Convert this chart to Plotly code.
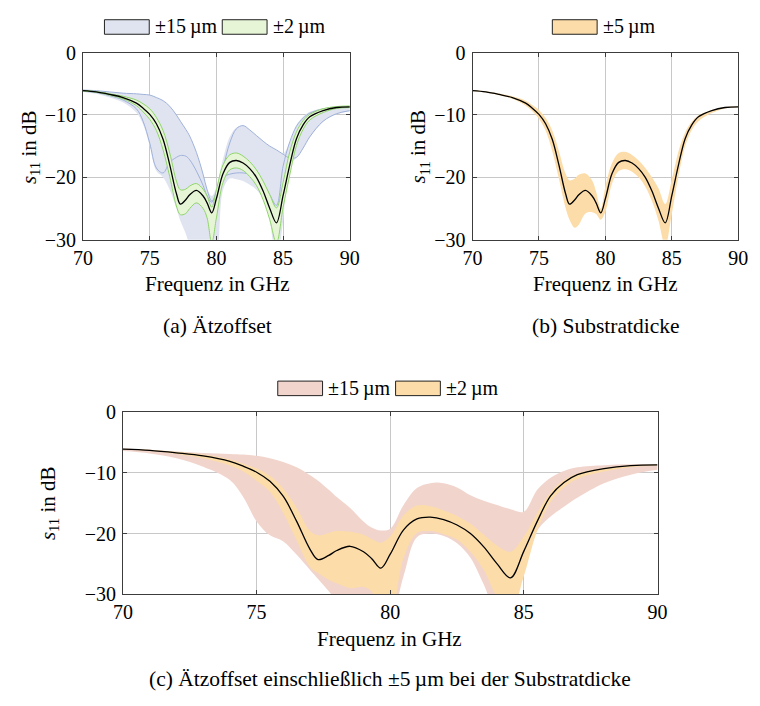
import plotly.graph_objects as go

# ---------------------------------------------------------------- data
freq = [70, 71, 72, 73, 74, 74.5, 75, 75.5, 76, 76.5, 77, 77.3, 77.7, 78, 78.5,
        79, 79.3, 79.65, 80, 80.5, 81, 81.5, 82, 82.5, 83, 83.5, 84, 84.5, 85,
        85.5, 86, 86.5, 87, 88, 89, 90]

# nominal design
s11_nominal = [-6.1, -6.3, -6.7, -7.2, -8.1, -8.9, -9.9, -11.4, -13.9, -18.0, -22.6, -24.3,
               -23.6, -22.8, -22.1, -23.0, -24.1, -25.7, -23.4, -19.4, -17.6, -17.3, -17.7,
               -18.6, -20.0, -22.2, -25.0, -27.3, -22.9, -18.0, -13.8, -11.6, -10.3, -9.3,
               -8.8, -8.7]

# (a) etch offset +-15 um: envelope and the two extreme curves
etch15_upper = [-6.0, -6.1, -6.3, -6.5, -6.6, -6.7, -6.8, -7.2, -7.7, -8.6, -10.0, -11.0,
                -12.3, -13.4, -16.0, -19.5, -21.8, -23.0, -21.5, -17.0, -13.5, -12.0, -11.7,
                -12.4, -13.3, -14.2, -15.0, -15.6, -16.2, -14.3, -11.6, -10.3, -9.5, -8.9,
                -8.7, -8.6]
etch15_lower = [-6.3, -6.6, -7.2, -8.0, -9.6, -11.5, -15.0, -19.0, -20.0, -22.0, -25.0, -27.0,
                -29.0, -31.0, -33.0, -34.0, -34.0, -34.0, -33.0, -22.0, -20.2, -20.3, -20.6,
                -21.2, -22.0, -23.5, -27.0, -34.0, -27.0, -18.0, -16.9, -15.4, -13.6, -11.1,
                -9.9, -9.4]
etch15_plus = [-6.0, -6.1, -6.3, -6.5, -6.6, -6.7, -6.8, -7.2, -7.7, -8.6, -10.0, -11.0,
               -12.3, -13.4, -16.0, -19.5, -22.0, -23.8, -22.5, -18.5, -14.5, -12.2, -11.7,
               -12.4, -13.3, -14.2, -15.0, -15.6, -16.3, -16.9, -16.8, -15.3, -13.5, -11.0,
               -9.8, -9.3]
etch15_minus = [-6.2, -6.4, -6.9, -7.6, -9.0, -11.0, -14.5, -18.5, -19.3, -17.6, -16.8, -16.5,
                -16.6, -17.2, -19.0, -21.3, -23.0, -24.0, -22.3, -20.0, -19.5, -19.3, -19.3,
                -19.5, -20.0, -21.0, -22.8, -24.5, -18.2, -14.3, -11.8, -10.5, -9.7, -9.0,
                -8.75, -8.7]

# (a) etch offset +-2 um envelope
etch2_upper = [-6.05, -6.25, -6.6, -7.0, -7.6, -8.2, -9.0, -10.4, -12.5, -16.1, -20.6, -22.0,
               -21.9, -21.4, -21.0, -21.9, -23.0, -24.8, -22.0, -18.0, -16.4, -16.1, -16.6,
               -17.5, -18.8, -20.6, -22.8, -24.9, -20.8, -15.9, -12.7, -10.9, -9.9, -9.0,
               -8.65, -8.55]
etch2_lower = [-6.15, -6.35, -6.8, -7.4, -8.5, -9.5, -10.7, -12.5, -15.6, -19.9, -24.6, -26.0,
               -25.8, -25.0, -24.1, -25.0, -26.5, -30.5, -26.5, -20.8, -18.8, -18.5, -18.9,
               -19.9, -21.3, -23.6, -26.8, -30.5, -24.8, -19.6, -14.9, -12.3, -10.8, -9.6,
               -8.95, -8.8]

# (b) substrate thickness +-5 um envelope
sub5_upper = [-6.0, -6.2, -6.55, -7.0, -7.7, -8.4, -9.2, -10.5, -12.5, -15.8, -19.4, -20.5,
              -20.2, -19.6, -19.4, -20.5, -22.3, -25.0, -21.5, -17.7, -16.1, -15.9, -16.4,
              -17.3, -18.5, -20.0, -21.8, -24.3, -20.3, -15.8, -12.8, -11.1, -10.1, -9.2,
              -8.7, -8.6]
sub5_lower = [-6.2, -6.4, -6.85, -7.4, -8.5, -9.4, -10.6, -12.5, -15.8, -20.2, -24.9, -26.8,
              -28.1, -27.6, -25.8, -25.6, -25.9, -26.8, -25.5, -21.0, -19.0, -18.7, -19.1,
              -20.0, -21.5, -23.8, -27.0, -31.0, -25.8, -19.8, -15.0, -12.4, -11.0, -9.7,
              -8.95, -8.75]

# (c) etch offset combined with +-5 um substrate thickness
comb15_upper = [-6.0, -6.2, -6.5, -6.75, -6.9, -7.0, -7.2, -7.6, -8.2, -9.1, -10.4, -11.3,
                -12.8, -14.0, -15.8, -18.0, -19.0, -19.5, -19.2, -15.3, -12.5, -11.7, -11.7,
                -12.4, -13.7, -14.6, -15.3, -16.0, -16.4, -12.8, -10.8, -9.7, -9.1, -8.75,
                -8.6, -8.6]
comb15_lower = [-6.4, -6.8, -7.6, -9.0, -11.2, -14.0, -18.0, -20.3, -21.3, -23.5, -26.0, -27.5,
                -29.5, -31.0, -33.0, -34.0, -34.0, -34.0, -34.0, -27.0, -20.6, -20.0, -20.4,
                -21.6, -24.0, -28.4, -33.0, -33.0, -25.0, -19.5, -17.2, -15.6, -14.1, -11.7,
                -10.3, -9.5]
comb2_upper = [-6.05, -6.2, -6.55, -7.0, -7.8, -8.5, -9.3, -10.5, -12.6, -15.8, -19.6, -20.3,
               -19.9, -19.6, -19.7, -20.2, -20.9, -21.5, -20.5, -17.0, -15.4, -15.5, -16.2,
               -17.1, -18.4, -20.2, -22.0, -23.0, -20.5, -16.6, -13.2, -11.2, -10.1, -9.2,
               -8.75, -8.65]
comb2_lower = [-6.2, -6.4, -6.9, -7.6, -8.8, -9.8, -11.3, -13.1, -16.6, -21.1, -25.5, -26.5,
               -27.6, -28.2, -29.0, -28.8, -29.5, -33.0, -33.0, -24.0, -19.9, -19.6, -20.1,
               -21.0, -23.0, -26.0, -30.5, -33.0, -27.0, -19.5, -14.8, -12.4, -11.0, -9.8,
               -9.1, -8.8]

x_ticks = [70, 75, 80, 85, 90]
y_ticks = [0, -10, -20, -30]

# ---------------------------------------------------------------- style
W, H = 760, 706
FONT = "Liberation Serif, Times New Roman, serif"
TICK_SIZE = 20
TITLE_SIZE = 21
CAPTION_SIZE = 21.5
BLUE_FILL, BLUE_LINE = "#e0e4f0", "#9fb1da"
GREEN_FILL, GREEN_LINE = "#e6f5d6", "#8fd46a"
ORANGE_FILL = "#fcdca8"
PINK_FILL = "#f1d5cd"
FRAME = "#3c3c3c"
GRID = "#c8c8c8"


def px(x):
    return x / W


def py(y):
    return 1 - y / H


fig = go.Figure()


def line(xa, ya, y, color, width):
    fig.add_trace(go.Scatter(
        x=freq, y=y, xaxis=xa, yaxis=ya, mode="lines",
        line=dict(color=color, width=width, shape="spline", smoothing=1),
        showlegend=False, hoverinfo="skip"))


def band(xa, ya, lower, upper, fill, edge=None, edge_width=1):
    color = edge if edge else "rgba(0,0,0,0)"
    width = edge_width if edge else 0
    fig.add_trace(go.Scatter(
        x=freq, y=lower, xaxis=xa, yaxis=ya, mode="lines",
        line=dict(color=color, width=width, shape="spline", smoothing=1),
        showlegend=False, hoverinfo="skip"))
    fig.add_trace(go.Scatter(
        x=freq, y=upper, xaxis=xa, yaxis=ya, mode="lines", fill="tonexty",
        fillcolor=fill,
        line=dict(color=color, width=width, shape="spline", smoothing=1),
        showlegend=False, hoverinfo="skip"))


# (a) etch offset
band("x", "y", etch15_lower, etch15_upper, BLUE_FILL)
line("x", "y", etch15_plus, BLUE_LINE, 1)
line("x", "y", etch15_minus, BLUE_LINE, 1)
band("x", "y", etch2_lower, etch2_upper, GREEN_FILL, GREEN_LINE, 1)
line("x", "y", s11_nominal, "black", 1.3)

# (b) substrate thickness
band("x2", "y2", sub5_lower, sub5_upper, ORANGE_FILL)
line("x2", "y2", s11_nominal, "black", 1.3)

# (c) combined
band("x3", "y3", comb15_lower, comb15_upper, PINK_FILL)
band("x3", "y3", comb2_lower, comb2_upper, ORANGE_FILL)
line("x3", "y3", s11_nominal, "black", 1.3)

axis_common = dict(
    showgrid=True, gridcolor=GRID, gridwidth=1,
    showline=True, linecolor=FRAME, linewidth=1, mirror="ticks",
    ticks="inside", ticklen=4, tickcolor=FRAME,
    zeroline=False, tickfont=dict(family=FONT, size=TICK_SIZE, color="black"),
)


def xaxis(domain, anchor):
    return dict(axis_common, domain=domain, anchor=anchor, range=[70, 90],
                tickvals=x_ticks, ticklabelstandoff=0)


def yaxis(domain, anchor):
    return dict(axis_common, domain=domain, anchor=anchor, range=[-30, 0],
                tickvals=y_ticks, ticklabelstandoff=2)


top = [py(236), py(43)]
bottom = [py(602), py(414)]

fig.update_layout(
    width=W, height=H, margin=dict(l=0, r=0, t=0, b=0),
    paper_bgcolor="white", plot_bgcolor="white",
    font=dict(family=FONT, size=TICK_SIZE, color="black"),
    xaxis=xaxis([px(75), px(349)], "y"),
    yaxis=yaxis(top, "x"),
    xaxis2=xaxis([px(475), px(748)], "y2"),
    yaxis2=yaxis(top, "x2"),
    xaxis3=xaxis([px(116), px(665)], "y3"),
    yaxis3=yaxis(bottom, "x3"),
    showlegend=False,
)

# ---------------------------------------------------------------- legends
shapes = []
annotations = []


def legend_item(x0, yc, fill, label):
    shapes.append(dict(type="rect", xref="paper", yref="paper",
                       x0=px(x0), x1=px(x0 + 46), y0=py(yc + 7.5), y1=py(yc - 7.5),
                       fillcolor=fill, line=dict(color="#222222", width=1)))
    annotations.append(dict(x=px(x0 + 50), y=py(yc), xref="paper", yref="paper",
                            text=label, showarrow=False, xanchor="left", yanchor="middle",
                            font=dict(family=FONT, size=TICK_SIZE, color="black")))


legend_item(97, 16.5, BLUE_FILL, "±15\u2009µm")
legend_item(218, 16.5, GREEN_FILL, "±2\u2009µm")
legend_item(557, 16.5, ORANGE_FILL, "±5\u2009µm")
legend_item(275, 389.5, PINK_FILL, "±15\u2009µm")
legend_item(396, 389.5, ORANGE_FILL, "±2\u2009µm")


def text(x, y, s, size, angle=0):
    annotations.append(dict(x=px(x), y=py(y), xref="paper", yref="paper", text=s,
                            showarrow=False, xanchor="center", yanchor="middle",
                            textangle=angle,
                            font=dict(family=FONT, size=size, color="black")))


ylabel = "<i>s</i><sub>11</sub> in dB"
text(20, 140, ylabel, TITLE_SIZE, angle=-90)
text(420, 140, ylabel, TITLE_SIZE, angle=-90)
text(40, 508, ylabel, TITLE_SIZE, angle=-90)

text(213, 282, "Frequenz in GHz", TITLE_SIZE)
text(612, 282, "Frequenz in GHz", TITLE_SIZE)
text(390, 648, "Frequenz in GHz", TITLE_SIZE)

text(213, 325, "(a) Ätzoffset", CAPTION_SIZE)
text(612, 325, "(b) Substratdicke", CAPTION_SIZE)
text(390, 690, "(c) Ätzoffset einschließlich ±5\u2009µm bei der Substratdicke", CAPTION_SIZE)

fig.update_layout(shapes=shapes, annotations=annotations)

fig.write_html("out.html")
